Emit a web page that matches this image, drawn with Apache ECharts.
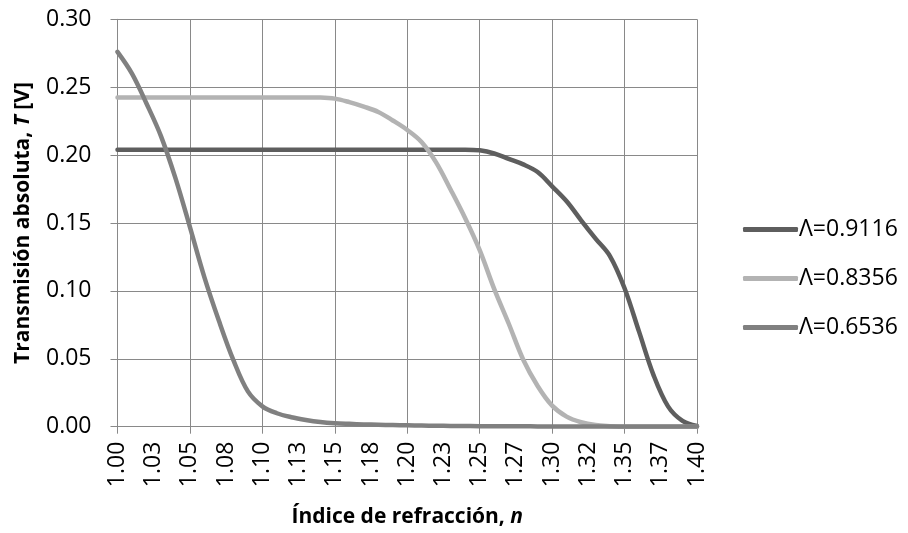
<!DOCTYPE html>
<html>
<head>
<meta charset="utf-8">
<script src="https://cdn.jsdelivr.net/npm/echarts@6/dist/echarts.min.js"></script>
<style>
html,body{margin:0;padding:0;background:#fff;}
#c{width:908px;height:533px;}
</style>
</head>
<body>
<div id="c"></div>
<script>
// Refractive index samples (x values)
const n = [1.00,1.01,1.02,1.03,1.04,1.05,1.06,1.07,1.08,1.09,
           1.10,1.11,1.12,1.13,1.14,1.15,1.16,1.17,1.18,1.19,
           1.20,1.21,1.22,1.23,1.24,1.25,1.26,1.27,1.28,1.29,
           1.30,1.31,1.32,1.33,1.34,1.35,1.36,1.37,1.38,1.39,1.40];

// Λ=0.9116
const serA = [0.204,0.204,0.204,0.204,0.204,0.204,0.204,0.204,0.204,0.204,
              0.204,0.204,0.204,0.204,0.204,0.204,0.204,0.204,0.204,0.204,
              0.204,0.204,0.204,0.204,0.204,0.2035,0.2012,0.1972,0.1932,0.1875,
              0.177,0.166,0.152,0.1385,0.1255,0.102,0.070,0.038,0.015,0.0043,0.0005];
// Λ=0.8356
const serB = [0.2425,0.2425,0.2425,0.2425,0.2425,0.2425,0.2425,0.2425,0.2425,0.2425,
              0.2425,0.2425,0.2425,0.2425,0.2424,0.2416,0.2390,0.2357,0.2318,0.2255,
              0.2185,0.2095,0.1945,0.1745,0.1535,0.1300,0.1015,0.0760,0.0495,0.0300,
              0.0155,0.0074,0.0033,0.0012,0.0004,0,0,0,0,0,0];
// Λ=0.6536
const serC = [0.276,0.260,0.238,0.214,0.183,0.147,0.110,0.078,0.049,0.026,
              0.015,0.0099,0.007,0.005,0.0035,0.0026,0.0021,0.0017,0.0014,0.0012,
              0.0010,0.0008,0.0007,0.0006,0.0005,0.0004,0.0004,0.0003,0.0003,0.0002,
              0.0002,0.0001,0.0001,0.0001,0.0001,0.0001,0.0001,0.0001,0.0001,0.0001,0.0001];

const seriesNames = ['Λ=0.9116','Λ=0.8356','Λ=0.6536'];
const xTickLabels = ['1.00','1.03','1.05','1.08','1.10','1.13','1.15','1.18','1.20',
                     '1.23','1.25','1.27','1.30','1.32','1.35','1.37','1.40'];
const yTickLabels = ['0.00','0.05','0.10','0.15','0.20','0.25','0.30'];

const FONT = '"Open Sans", sans-serif';
const GRID_C = '#898989';
const colors = ['#5e5e5e','#b3b3b3','#808080'];

const pairs = arr => n.map((x, i) => [x, arr[i]]);
const allSeries = [serA, serB, serC];
const titleRich = {
  b: {fontFamily: FONT, fontSize: 21, fontWeight: 'bold', color: '#000'},
  i: {fontFamily: FONT, fontSize: 21, fontWeight: 'bold', fontStyle: 'italic', color: '#000'}
};

const chart = echarts.init(document.getElementById('c'), null, {renderer: 'canvas'});
chart.setOption({
  animation: false,
  backgroundColor: '#fff',
  grid: {left: 117.5, right: 211, top: 19.3, bottom: 106.3, containLabel: false, outerBoundsMode: 'none'},
  legend: {
    orient: 'vertical',
    left: 743, top: 218,
    padding: 0,
    icon: 'roundRect',
    itemWidth: 55, itemHeight: 5,
    itemGap: 26,
    textStyle: {fontFamily: FONT, fontSize: 23, color: '#000', padding: [0,0,0,-4]},
    data: seriesNames
  },
  xAxis: [{
    type: 'value', min: 1.0, max: 1.4, interval: 0.05,
    axisLine: {show: true, lineStyle: {color: GRID_C, width: 1}},
    axisTick: {show: true, length: 7, lineStyle: {color: GRID_C}},
    axisLabel: {show: false},
    splitLine: {show: true, lineStyle: {color: GRID_C, width: 1}}
  }, {
    type: 'value', min: 1.0, max: 1.4, interval: 0.025, position: 'bottom',
    axisLine: {show: false}, axisTick: {show: false}, splitLine: {show: false},
    axisLabel: {
      show: true, rotate: 90, margin: 15,
      fontFamily: FONT, fontSize: 23, color: '#000',
      formatter: v => xTickLabels[Math.round((v - n[0]) / 0.025)]
    },
    name: '{b|Índice de refracción, }{i|n}',
    nameLocation: 'middle', nameGap: 80,
    nameTextStyle: {rich: titleRich}
  }],
  yAxis: {
    type: 'value', min: 0, max: 0.3, interval: 0.05,
    axisLine: {show: true, lineStyle: {color: GRID_C, width: 1}},
    axisTick: {show: true, length: 7, lineStyle: {color: GRID_C}},
    splitLine: {show: true, lineStyle: {color: GRID_C, width: 1}},
    axisLabel: {
      margin: 26, fontFamily: FONT, fontSize: 23, color: '#000',
      formatter: v => yTickLabels[Math.round(v / 0.05)]
    },
    name: '{b|Transmisión absoluta, }{i|T}{b| [V]}',
    nameLocation: 'middle', nameGap: 84, nameRotate: 90,
    nameTextStyle: {rich: titleRich}
  },
  series: allSeries.map((s, i) => ({
    name: seriesNames[i],
    type: 'line',
    xAxisIndex: 0,
    data: pairs(s),
    showSymbol: false, symbol: 'none',
    smooth: 0.35,
    color: colors[i],
    itemStyle: {color: colors[i]},
    lineStyle: {color: colors[i], width: 4.5, cap: 'round', join: 'round'}
  }))
});
</script>
</body>
</html>
